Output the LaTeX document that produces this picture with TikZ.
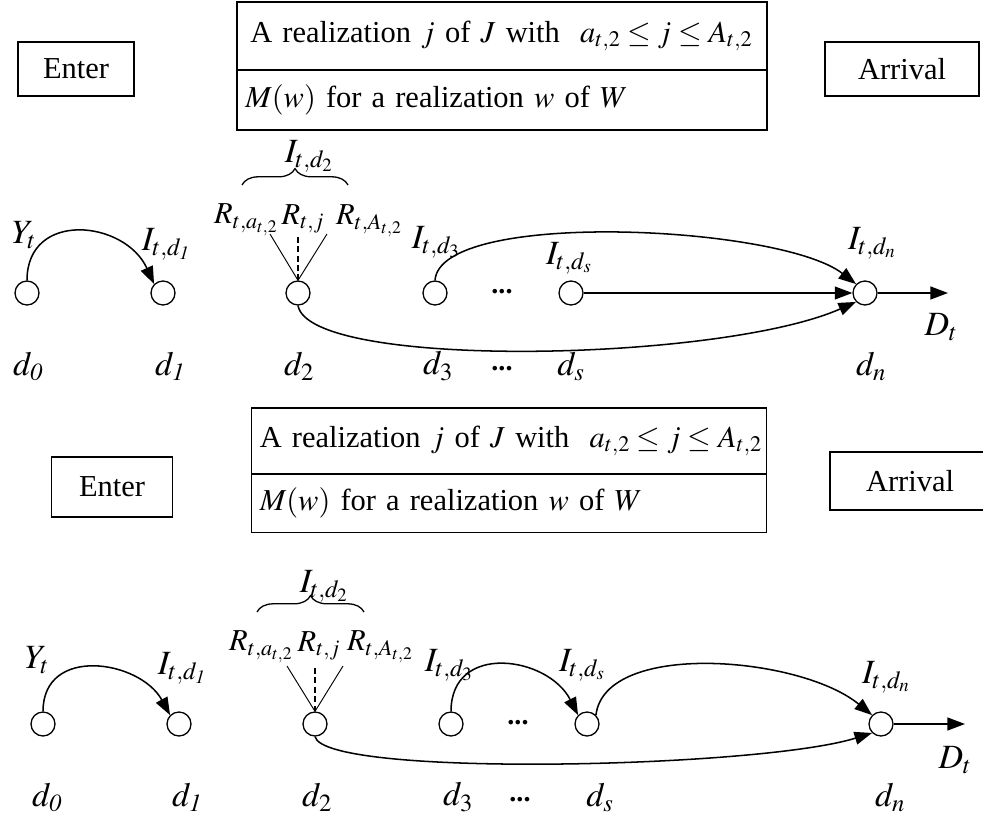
\documentclass[tikz,border=0pt]{standalone}
\usepackage{mathptmx}
\usepackage{fontspec}
\setmainfont{Liberation Serif}
\DeclareMathSizes{26}{26}{19}{15}
\DeclareMathSizes{29}{29}{21}{16}
\usetikzlibrary{arrows.meta,decorations.pathreplacing}

\tikzset{
  state/.style={circle,draw,line width=1.1pt,minimum size=0.72cm,inner sep=0pt},
  box/.style={draw,line width=1.6pt,font=\fontsize{26}{30}\selectfont},
  lab/.style={font=\fontsize{29}{33}\selectfont,inner sep=1pt},
  rlab/.style={font=\fontsize{26}{30}\selectfont,inner sep=1pt},
  dots/.style={font=\bfseries\fontsize{24}{28}\selectfont,inner sep=1pt},
  flow/.style={line width=1.3pt,-{Triangle[length=15pt,width=11pt]}},
  fan/.style={line width=0.8pt},
  fanj/.style={line width=1.3pt,dash pattern=on 5pt off 3pt},
  bracket/.style={line width=1.1pt,decorate,decoration={brace,amplitude=14pt}}
}

\begin{document}
\begin{tikzpicture}[x=0.03cm,y=-0.03cm]
  \useasboundingbox (0,0) rectangle (983,820);

  % upper picture
  \node[box,minimum width=3.48cm,minimum height=1.62cm] (enter1) at (76,69) {Enter};
  \node[box,minimum height=2.04cm,text width=15.1cm,inner xsep=0.4cm,align=left] (jbox1) at (502,36)
    {\mbox{A realization $j$ of $J$ with \ $a_{t,2}\le j\le A_{t,2}$}};
  \node[box,minimum height=1.8cm,text width=15.4cm,inner xsep=0.25cm,align=left] (mbox1) at (502,100)
    {$M(w)$ for a realization $w$ of $W$};
  \node[box,minimum width=4.62cm,minimum height=1.62cm] (arr1) at (902,69) {Arrival};

  \node[state] (t0) at (27,293) {};
  \node[state] (t1) at (163,293) {};
  \node[state] (t2) at (298,293) {};
  \node[state] (t3) at (435,293) {};
  \node[dots] (tdots) at (502,292) {...};
  \node[state] (ts) at (571,293) {};
  \node[state] (tn) at (865,293) {};
  \coordinate (tout) at (948,293);

  \node[lab] (tY) at (24,235) {$Y_t$};
  \node[lab] (tI1) at (166,244) {$I_{t,d_{\mathit{1}}}$};
  \node[lab] (tI2) at (309,156) {$I_{t,d_2}$};
  \node[rlab] (tRa) at (246,220) {$R_{t,a_{t,2}}$};
  \node[rlab] (tRj) at (303,219) {$R_{t,j}$};
  \node[rlab] (tRA) at (369,221) {$R_{t,A_{t,2}}$};
  \node[lab] (tI3) at (436,242) {$I_{t,d_3}$};
  \node[lab] (tIs) at (569,258) {$I_{t,d_s}$};
  \node[lab] (tIn) at (872,243) {$I_{t,d_n}$};
  \node[lab] (tD) at (941,327) {$D_t$};

  \draw[bracket] (242,185) -- (348,185);
  \coordinate (tfa) at (270,234); \coordinate (tfj) at (298,234); \coordinate (tfA) at (327,234);
  \draw[fan] (t2.north) -- (tfa); \draw[fan] (t2.north) -- (tfA);
  \draw[fanj] (t2.north) -- (tfj);

  \draw[flow] (t0.north) .. controls (27,210) and (125,220) .. (t1.north west);
  \draw[flow] (t3.north) .. controls (440,209) and (780,225) .. (tn.north west);
  \draw[flow] (ts) -- (tn);
  \draw[flow] (t2.south) .. controls (310,370) and (720,362) .. (tn.south west);
  \draw[flow] (tn) -- (tout);

  \node[lab] (td0) at (28,366) {$d_{\mathit{0}}$};
  \node[lab] (td1) at (170,366) {$d_{\mathit{1}}$};
  \node[lab] (td2) at (299,366) {$d_2$};
  \node[lab] (td3) at (438,366) {$d_3$};
  \node[dots] (tddots) at (502,369) {...};
  \node[lab] (tds) at (571,366) {$d_s$};
  \node[lab] (tdn) at (871,366) {$d_n$};

  % lower picture
  \node[box,minimum width=3.63cm,minimum height=1.8cm] (enter2) at (112,487) {Enter};
  \node[box,minimum height=1.98cm,text width=14.95cm,inner xsep=0.25cm,align=left] (jbox2) at (509,441)
    {\mbox{A realization $j$ of $J$ with \ $a_{t,2}\le j\le A_{t,2}$}};
  \node[box,minimum height=1.77cm,text width=14.95cm,inner xsep=0.25cm,align=left] (mbox2) at (509,503)
    {$M(w)$ for a realization $w$ of $W$};
  \node[box,minimum width=4.8cm,minimum height=1.74cm] (arr2) at (910,481) {Arrival};

  \node[state] (b0) at (43,724) {};
  \node[state] (b1) at (179,724) {};
  \node[state] (b2) at (315,724) {};
  \node[state] (b3) at (451,724) {};
  \node[dots] (bdots) at (518,723) {...};
  \node[state] (bs) at (587,724) {};
  \node[state] (bn) at (881,724) {};
  \coordinate (bout) at (965,724);

  \node[lab] (bY) at (37,660) {$Y_t$};
  \node[lab] (bI1) at (182,668) {$I_{t,d_{\mathit{1}}}$};
  \node[lab] (bI2) at (324,586) {$I_{t,d_2}$};
  \node[rlab] (bRa) at (261,647) {$R_{t,a_{t,2}}$};
  \node[rlab] (bRj) at (319,646) {$R_{t,j}$};
  \node[rlab] (bRA) at (380,647) {$R_{t,A_{t,2}}$};
  \node[lab] (bI3) at (449,665) {$I_{t,d_3}$};
  \node[lab] (bIs) at (582,665) {$I_{t,d_s}$};
  \node[lab] (bIn) at (886,677) {$I_{t,d_n}$};
  \node[lab] (bD) at (955,760) {$D_t$};

  \draw[bracket] (257,612) -- (364,612);
  \coordinate (bfa) at (287,666); \coordinate (bfj) at (315,666); \coordinate (bfA) at (343,666);
  \draw[fan] (b2.north) -- (bfa); \draw[fan] (b2.north) -- (bfA);
  \draw[fanj] (b2.north) -- (bfj);

  \draw[flow] (b0.north) .. controls (43,645) and (140,660) .. (b1.north west);
  \draw[flow] (b3.north) .. controls (451,642) and (548,656) .. (bs.north west);
  \draw[flow] (bs.north east) .. controls (605,640) and (800,656) .. (bn.north west);
  \draw[flow] (b2.south) .. controls (325,778) and (760,768) .. (bn.south west);
  \draw[flow] (bn) -- (bout);

  \node[lab] (bd0) at (47,797) {$d_{\mathit{0}}$};
  \node[lab] (bd1) at (187,797) {$d_{\mathit{1}}$};
  \node[lab] (bd2) at (317,797) {$d_2$};
  \node[lab] (bd3) at (458,797) {$d_3$};
  \node[dots] (bddots) at (520,800) {...};
  \node[lab] (bds) at (600,797) {$d_s$};
  \node[lab] (bdn) at (890,797) {$d_n$};
\end{tikzpicture}
\end{document}
